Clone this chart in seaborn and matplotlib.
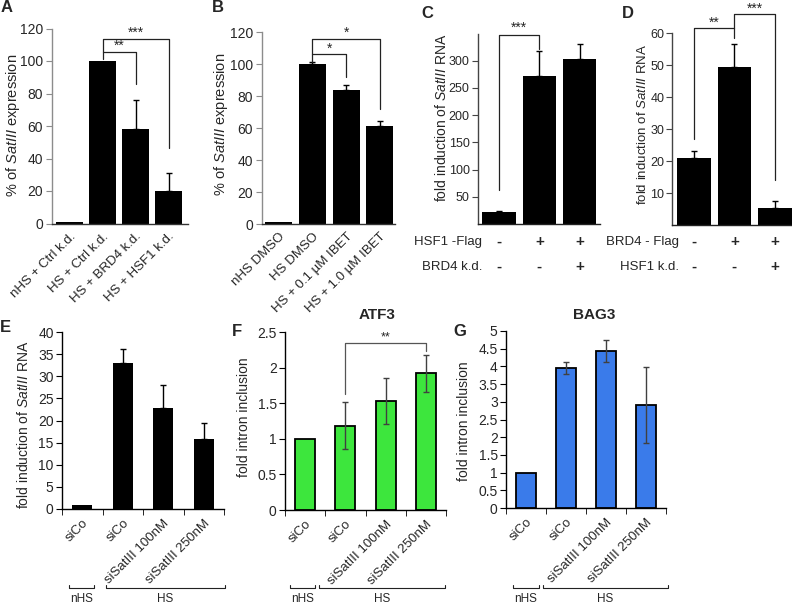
import numpy as np
import matplotlib
matplotlib.use("Agg")
import matplotlib.pyplot as plt
import matplotlib.transforms as mtransforms
import seaborn as sns
import pandas as pd

# ---------------- data ----------------
a_labels = ["nHS + Ctrl k.d.", "HS + Ctrl k.d.", "HS + BRD4 k.d.", "HS + HSF1 k.d."]
a_values = [1, 100, 58, 20]
a_errors = [0, 0, 18, 11]

b_labels = ["nHS DMSO", "HS DMSO", "HS + 0.1 µM IBET", "HS + 1.0 µM IBET"]
b_values = [1.5, 100, 84, 61]
b_errors = [0, 1, 3, 3.5]

c_row1 = ["-", "+", "+"]   # HSF1 -Flag
c_row2 = ["-", "-", "+"]   # BRD4 k.d.
c_values = [22, 271, 304]
c_errors = [1.5, 47, 26]

d_row1 = ["-", "+", "+"]   # BRD4 -Flag
d_row2 = ["-", "-", "+"]   # HSF1 k.d.
d_values = [21, 49.5, 5.3]
d_errors = [2.2, 7, 2.1]

efg_labels = ["siCo", "siCo", "siSatIII 100nM", "siSatIII 250nM"]
efg_groups = ["nHS", "HS"]
e_values = [1, 33, 22.8, 15.8]
e_errors = [0, 3.2, 5.2, 3.7]
f_values = [1.0, 1.18, 1.53, 1.92]
f_errors = [0, 0.33, 0.32, 0.26]
g_values = [1.0, 3.95, 4.43, 2.91]
g_errors = [0, 0.17, 0.31, 1.07]

# ---------------- style ----------------
sns.set_style("ticks")
plt.rcParams["font.family"] = ["Liberation Sans", "DejaVu Sans"]
plt.rcParams["mathtext.fontset"] = "custom"
plt.rcParams["mathtext.rm"] = "Liberation Sans"
plt.rcParams["mathtext.it"] = "Liberation Sans:italic"
REG = ["Liberation Sans", "DejaVu Sans"]

W, H = 792, 608
fig = plt.figure(figsize=(W / 100, H / 100), dpi=100)


def rect(l, r, t, b):
    return [l / W, 1 - b / H, (r - l) / W, (b - t) / H]


def ftext(x, y, s, **kw):
    fig.text(x / W, 1 - y / H, s, **kw)


def bars(ax, values, color, width, edgecolor=None, lw=0):
    df = pd.DataFrame({"pos": np.arange(len(values)), "val": values})
    sns.barplot(data=df, x="pos", y="val", ax=ax, color=color, width=width,
                edgecolor=edgecolor, linewidth=lw, errorbar=None, saturation=1)
    ax.set_xlabel("")
    ax.set_ylabel("")


def errs(ax, values, errors, up_only=True, color="black"):
    x = np.arange(len(values))
    v = np.asarray(values, float)
    e = np.asarray(errors, float)
    m = e > 0
    lower = np.zeros_like(e) if up_only else e
    ax.errorbar(x[m], v[m], yerr=[lower[m], e[m]], fmt="none", ecolor=color,
                elinewidth=1, capsize=2.5, capthick=1, zorder=3)


def bracket(ax, x1, x2, ytop, yl, yr, text, ty, color="#222222", fs=10):
    ax.plot([x1, x1, x2, x2], [yl, ytop, ytop, yr], color=color, lw=0.9,
            clip_on=False, zorder=4)
    ax.text((x1 + x2) / 2, ty, text, ha="center", va="center", fontsize=fs,
            clip_on=False, family=REG)


def style(ax, spine_left, spine_bottom, ylab_size=10.5, pad=2):
    sns.despine(ax=ax)
    ax.spines["left"].set_color(spine_left)
    ax.spines["bottom"].set_color(spine_bottom)
    ax.spines["left"].set_linewidth(1)
    ax.spines["bottom"].set_linewidth(1)
    ax.tick_params(axis="y", length=4, color=spine_left, labelsize=ylab_size, pad=pad,
                   direction="out")


# ---------------- Panel A ----------------
axA = fig.add_axes(rect(52, 188, 28.5, 223.5))
bars(axA, a_values, "black", 0.82)
errs(axA, a_values, a_errors)
axA.set_xlim(-0.53, 3.59)
axA.set_ylim(0, 120)
axA.set_yticks(range(0, 121, 20))
axA.set_xticks(range(4))
axA.set_xticklabels(a_labels, rotation=45, ha="right", rotation_mode="anchor",
                    fontsize=9.5)
axA.tick_params(axis="x", length=0, pad=5)
style(axA, "#8c8c8c", "#333333", ylab_size=10, pad=2.5)
bracket(axA, 1, 2, 105.5, 101, 86, "**", 109.5)
bracket(axA, 1, 3, 113.5, 105.5, 46.5, "***", 117.5)
ftext(13, 125, r"% of $\mathit{SatIII}$ expression", rotation=90, ha="center",
      va="center", fontsize=10.5)
ftext(1, 8, "A", fontsize=12, fontweight="bold", ha="left", va="center")

# ---------------- Panel B ----------------
axB = fig.add_axes(rect(262, 395, 32, 224))
bars(axB, b_values, "black", 0.8)
errs(axB, b_values, b_errors)
axB.set_xlim(-0.49, 3.45)
axB.set_ylim(0, 120)
axB.set_yticks(range(0, 121, 20))
axB.set_xticks(range(4))
axB.set_xticklabels(b_labels, rotation=45, ha="right", rotation_mode="anchor",
                    fontsize=9.5)
axB.tick_params(axis="x", length=0, pad=5)
style(axB, "#8c8c8c", "#333333", ylab_size=10, pad=2.5)
bracket(axB, 1, 2, 106, 101.5, 92, "*", 109.5)
bracket(axB, 1, 3, 115.5, 106, 72, "*", 119.5)
ftext(221, 124, r"% of $\mathit{SatIII}$ expression", rotation=90, ha="center",
      va="center", fontsize=10.5)
ftext(212, 8, "B", fontsize=12, fontweight="bold", ha="left", va="center")

# ---------------- Panel C ----------------
axC = fig.add_axes(rect(478, 600, 33.5, 224))
bars(axC, c_values, "black", 0.82)
errs(axC, c_values, c_errors)
axC.set_xlim(-0.52, 2.5)
axC.set_ylim(0, 350)
axC.set_yticks(range(50, 301, 50))
axC.set_xticks([])
style(axC, "#444444", "#222222", ylab_size=9)
bracket(axC, 0, 1, 347, 62, 321, "***", 360)
ftext(442, 118, r"fold induction of $\mathit{SatIII}$ RNA", rotation=90, ha="center",
      va="center", fontsize=10)
ftext(421, 13, "C", fontsize=12, fontweight="bold", ha="left", va="center")
tC = mtransforms.blended_transform_factory(axC.transData, fig.transFigure)
ftext(482, 242, "HSF1 -Flag", ha="right", va="center", fontsize=9.5)
ftext(482, 267, "BRD4 k.d.", ha="right", va="center", fontsize=9.5)
for i, (s1, s2) in enumerate(zip(c_row1, c_row2)):
    axC.text(i, 1 - 242 / H, s1, transform=tC, ha="center", va="center",
             fontsize=11, fontweight="bold")
    axC.text(i, 1 - 267 / H, s2, transform=tC, ha="center", va="center",
             fontsize=11, fontweight="bold")

# ---------------- Panel D ----------------
axD = fig.add_axes(rect(672, 792, 33, 225))
bars(axD, d_values, "black", 0.82)
errs(axD, d_values, d_errors)
axD.set_xlim(-0.54, 2.42)
axD.set_ylim(0, 60)
axD.set_yticks(range(10, 61, 10))
axD.set_xticks([])
style(axD, "#444444", "#222222", ylab_size=9, pad=1.5)
bracket(axD, 0, 1, 61.5, 27, 58.5, "**", 63.3)
bracket(axD, 1, 2, 65.8, 61.5, 14, "***", 67.6)
ftext(642, 124, r"fold induction of $\mathit{SatIII}$ RNA", rotation=90, ha="center",
      va="center", fontsize=9.5)
ftext(622, 13, "D", fontsize=12, fontweight="bold", ha="left", va="center")
tD = mtransforms.blended_transform_factory(axD.transData, fig.transFigure)
ftext(679, 242, "BRD4 - Flag", ha="right", va="center", fontsize=9.5)
ftext(679, 267, "HSF1 k.d.", ha="right", va="center", fontsize=9.5)
for i, (s1, s2) in enumerate(zip(d_row1, d_row2)):
    axD.text(i, 1 - 242 / H, s1, transform=tD, ha="center", va="center",
             fontsize=11, fontweight="bold")
    axD.text(i, 1 - 267 / H, s2, transform=tD, ha="center", va="center",
             fontsize=11, fontweight="bold")


# ---------------- Panels E, F, G ----------------
def efg_axes(ax, values, errors, color, edge, up_only, ecolor, ylim, yticks):
    bars(ax, values, color, 0.5, edgecolor=edge, lw=1.3 if edge else 0)
    errs(ax, values, errors, up_only=up_only, color=ecolor)
    ax.set_xlim(-0.5, 3.5)
    ax.set_ylim(*ylim)
    ax.set_yticks(yticks)
    ax.set_yticklabels(["%g" % t for t in yticks])
    ax.set_xticks(range(4))
    ax.set_xticklabels(efg_labels, rotation=45, ha="right", rotation_mode="anchor",
                       fontsize=9.5)
    ax.set_xticks(np.arange(-0.5, 4, 1), minor=True)
    ax.tick_params(axis="x", which="major", length=0, pad=6)
    ax.tick_params(axis="x", which="minor", length=4, color="black", direction="out")
    style(ax, "black", "black", ylab_size=10)


def group_brackets(ax, spans, y_line=588, y_text=599):
    t = mtransforms.blended_transform_factory(ax.transData, fig.transFigure)
    yl = 1 - y_line / H
    yt = 1 - (y_line - 3) / H
    for (x1, x2), lab in zip(spans, efg_groups):
        ax.plot([x1, x1, x2, x2], [yt, yl, yl, yt], transform=t, color="#222222",
                lw=0.8, clip_on=False)
        ax.text((x1 + x2) / 2, 1 - y_text / H, lab, transform=t, ha="center",
                va="center", fontsize=8.5, clip_on=False)


axE = fig.add_axes(rect(62, 224, 332, 509))
efg_axes(axE, e_values, e_errors, "black", None, True, "black", (0, 40), list(range(0, 41, 5)))
group_brackets(axE, [(-0.33, 0.29), (0.59, 3.52)])
ftext(24, 425, r"fold induction of $\mathit{SatIII}$ RNA", rotation=90, ha="center",
      va="center", fontsize=10)
ftext(0, 327, "E", fontsize=12, fontweight="bold", ha="left", va="center")

axF = fig.add_axes(rect(285, 446, 332, 510))
efg_axes(axF, f_values, f_errors, "#3de63d", "black", False, "#404040", (0, 2.5),
         [0, 0.5, 1, 1.5, 2, 2.5])
bracket(axF, 1, 3, 2.35, 1.63, 2.24, "**", 2.43, color="#555555", fs=9)
group_brackets(axF, [(-0.38, 0.25), (0.35, 3.48)])
ftext(244, 417, "fold intron inclusion", rotation=90, ha="center", va="center",
      fontsize=10)
ftext(232, 331, "F", fontsize=12, fontweight="bold", ha="left", va="center")
ftext(377, 315, "ATF3", fontsize=11, fontweight="bold", ha="center", va="center")

axG = fig.add_axes(rect(506, 666, 331, 508))
efg_axes(axG, g_values, g_errors, "#3a7bea", "black", False, "#404040", (0, 5),
         [0, 0.5, 1, 1.5, 2, 2.5, 3, 3.5, 4, 4.5, 5])
group_brackets(axG, [(-0.33, 0.33), (0.43, 3.55)])
ftext(464, 421, "fold intron inclusion", rotation=90, ha="center", va="center",
      fontsize=10)
ftext(453, 332, "G", fontsize=12, fontweight="bold", ha="left", va="center")
ftext(594, 315, "BAG3", fontsize=11, fontweight="bold", ha="center", va="center")

fig.savefig("out.png", dpi=100)
